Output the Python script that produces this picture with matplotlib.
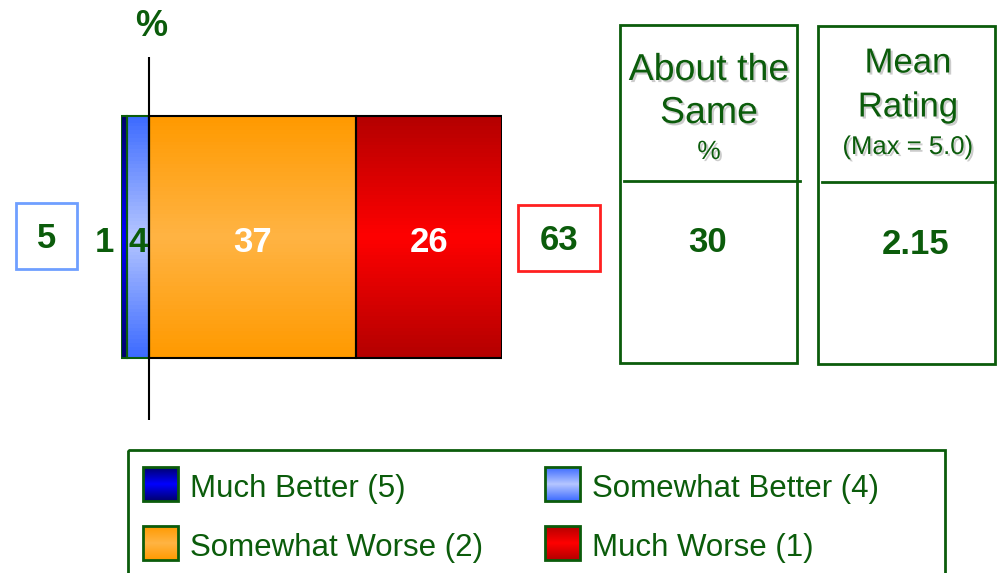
import numpy as np
import matplotlib.pyplot as plt
import matplotlib.patheffects as pe
from matplotlib.patches import Rectangle
from matplotlib.colors import to_rgb

plt.rcParams['font.family'] = ['Liberation Sans', 'DejaVu Sans']

# данные
categories = ['Much Better (5)', 'Somewhat Better (4)', 'Somewhat Worse (2)', 'Much Worse (1)']
values = [1, 4, 37, 26]
net_better = 5
net_worse = 63
about_same = 30
mean_rating = 2.15

green = '#0B5C0B'
grad_colors = [('#00006E', '#0000FF'),
               ('#3D6BFF', '#B5C6FF'),
               ('#FF9A00', '#FFB444'),
               ('#B40000', '#FF0000')]
edge_colors = [green, green, 'black', 'black']
label_colors = [green, green, 'white', 'white']


def gradient(edge, mid, n=64):
    t = 1 - np.abs(np.linspace(-1, 1, n))
    e = np.array(to_rgb(edge))
    m = np.array(to_rgb(mid))
    return (e + (m - e) * t[:, None])[:, None, :]


fig = plt.figure(figsize=(9.97, 5.73), dpi=100)

# фон в пикселях для рамок и подписей
bg = fig.add_axes([0, 0, 1, 1])
bg.set_xlim(0, 997)
bg.set_ylim(573, 0)
bg.axis('off')

# основная полоса
ax = fig.add_axes([121 / 997, (573 - 420) / 573, 381 / 997, 363 / 573])
lefts = [-(values[0] + values[1]), -values[1], 0, values[2]]
bars = ax.barh(0.504, values, left=lefts, height=0.667, color='none',
               edgecolor=edge_colors, linewidth=1.5, zorder=3)
for b, (c1, c2) in zip(bars, grad_colors):
    x0, y0 = b.get_x(), b.get_y()
    ax.imshow(gradient(c1, c2), extent=[x0, x0 + b.get_width(), y0, y0 + b.get_height()],
              aspect='auto', zorder=2)

for i, b in enumerate(bars):
    xc = b.get_x() + b.get_width() / 2
    if i == 0:
        xc = b.get_x() - 3  # слишком узкий сегмент, подпись слева
    ax.text(xc, 0.49, str(values[i]), ha='center', va='center', fontsize=25,
            fontweight='bold', color=label_colors[i], zorder=5, clip_on=False)

ax.axvline(0, color='black', lw=1.5, zorder=4)
ax.set_xlim(-5, 63)
ax.set_ylim(0, 1)
ax.axis('off')

bg.text(151, 27, '%', ha='center', va='center', fontsize=26, fontweight='bold', color=green)

# итоги слева и справа
bg.add_patch(Rectangle((16, 203), 61, 66, fill=False, edgecolor='#6F9FFF', lw=2))
bg.text(47, 238, str(net_better), ha='center', va='center', fontsize=25, fontweight='bold', color=green)
bg.add_patch(Rectangle((518, 205), 82, 66, fill=False, edgecolor='#FF2020', lw=2))
bg.text(559, 241, str(net_worse), ha='center', va='center', fontsize=25, fontweight='bold', color=green)

# таблички справа
shadow = [pe.SimplePatchShadow(offset=(1.5, -1.5), shadow_rgbFace='#AAAAAA', alpha=0.6), pe.Normal()]
bg.add_patch(Rectangle((620, 25), 177, 338, fill=False, edgecolor=green, lw=2))
bg.plot([624, 800], [181, 181], color=green, lw=2)
bg.text(709, 70, 'About the', ha='center', va='center', fontsize=27, color=green, path_effects=shadow)
bg.text(709, 113, 'Same', ha='center', va='center', fontsize=27, color=green, path_effects=shadow)
bg.text(709, 152, '%', ha='center', va='center', fontsize=19, color=green, path_effects=shadow)
bg.text(708, 243, str(about_same), ha='center', va='center', fontsize=25, fontweight='bold', color=green)

bg.add_patch(Rectangle((818, 26), 177, 338, fill=False, edgecolor=green, lw=2))
bg.plot([822, 997], [182, 182], color=green, lw=2)
bg.text(908, 63, 'Mean', ha='center', va='center', fontsize=25, color=green, path_effects=shadow)
bg.text(908, 107, 'Rating', ha='center', va='center', fontsize=25, color=green, path_effects=shadow)
bg.text(908, 147, '(Max = 5.0)', ha='center', va='center', fontsize=18.5, color=green, path_effects=shadow)
bg.text(916, 245, f'{mean_rating:.2f}', ha='center', va='center', fontsize=25, fontweight='bold', color=green)

# легенда
bg.add_patch(Rectangle((128, 450), 817, 140, fill=False, edgecolor=green, lw=2, clip_on=True))
leg_x = [143, 545]
leg_y = [467, 526]
for i, cat in enumerate(categories):
    x = leg_x[i % 2]
    y = leg_y[i // 2]
    bg.imshow(gradient(*grad_colors[i]), extent=[x, x + 35, y + 34, y], aspect='auto', zorder=2)
    bg.add_patch(Rectangle((x, y), 35, 34, fill=False, edgecolor=green, lw=2, zorder=3))
    bg.text(x + 47, y + 22, cat, ha='left', va='center', fontsize=22.5, color=green)
bg.set_xlim(0, 997)
bg.set_ylim(573, 0)

plt.savefig('out.png', dpi=100)
